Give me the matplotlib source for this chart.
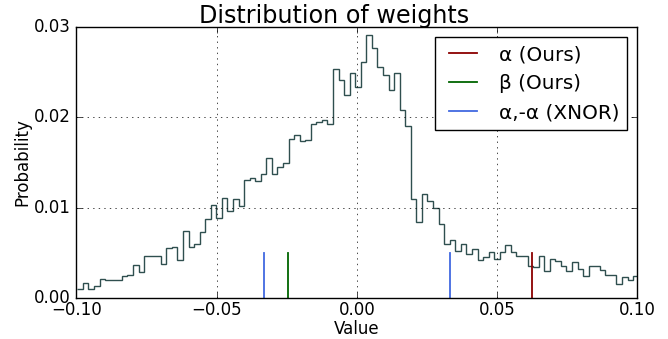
import matplotlib
matplotlib.use('Agg')
import matplotlib.pyplot as plt
import numpy as np

# ---- data ----
bin_start = -0.09968
bin_width = 0.001982
probs = [
    0.0010, 0.0017, 0.0010, 0.0013, 0.0021, 0.0020, 0.0020, 0.0020, 0.0024, 0.0026,
    0.0036, 0.0029, 0.0047, 0.0046, 0.0046, 0.0038, 0.0055, 0.0056, 0.0042, 0.0074,
    0.0056, 0.0060, 0.0073, 0.0087, 0.0103, 0.0089, 0.0111, 0.0096, 0.0110, 0.0102,
    0.0131, 0.0133, 0.0130, 0.0137, 0.0155, 0.0137, 0.0145, 0.0150, 0.0176, 0.0181,
    0.0174, 0.0175, 0.0193, 0.0195, 0.0197, 0.0193, 0.0254, 0.0241, 0.0225, 0.0249,
    0.0234, 0.0261, 0.0291, 0.0277, 0.0256, 0.0247, 0.0230, 0.0249, 0.0208, 0.0190,
    0.0110, 0.0084, 0.0115, 0.0107, 0.0100, 0.0082, 0.0060, 0.0064, 0.0052, 0.0060,
    0.0049, 0.0054, 0.0042, 0.0045, 0.0051, 0.0043, 0.0051, 0.0059, 0.0051, 0.0047,
    0.0047, 0.0035, 0.0034, 0.0047, 0.0030, 0.0043, 0.0041, 0.0035, 0.0030, 0.0040,
    0.0032, 0.0024, 0.0035, 0.0035, 0.0031, 0.0025, 0.0025, 0.0015, 0.0023, 0.0020,
    0.0024,
]
alpha_ours = 0.0626
beta_ours = -0.0245
alpha_xnor = 0.0332
marker_height = 0.005
x_ticks = [-0.10, -0.05, 0.00, 0.05, 0.10]
y_ticks = [0.00, 0.01, 0.02, 0.03]

plt.style.use('classic')
plt.rcParams['font.family'] = ['DejaVu Sans']
plt.rcParams['xtick.major.pad'] = 2.5

fig = plt.figure(figsize=(6.68, 3.39), dpi=100, facecolor='white')
ax = fig.add_axes([0.1145, 0.121, 0.8395, 0.799])

edges = bin_start + bin_width * np.arange(len(probs) + 1)
ax.stairs(probs, edges, baseline=None, color='#2F4F4F', linewidth=1.0)

ax.plot([alpha_ours, alpha_ours], [0, marker_height], color='#8B0000', lw=1.3, label='α (Ours)')
ax.plot([beta_ours, beta_ours], [0, marker_height], color='#006400', lw=1.3, label='β (Ours)')
ax.plot([-alpha_xnor, -alpha_xnor], [0, marker_height], color='#4169E1', lw=1.3, label='α,-α (XNOR)')
ax.plot([alpha_xnor, alpha_xnor], [0, marker_height], color='#4169E1', lw=1.3)

ax.set_xlim(-0.1, 0.1)
ax.set_ylim(0, 0.03)
ax.set_xticks(x_ticks)
ax.set_yticks(y_ticks)
ax.grid(True)
ax.set_title('Distribution of weights', fontsize=17.2, x=0.46, pad=3)
ax.set_xlabel('Value', labelpad=0.5)
ax.set_ylabel('Probability', labelpad=2)
ax.legend(loc='upper right')

fig.savefig('out.png', dpi=100, facecolor='white')
